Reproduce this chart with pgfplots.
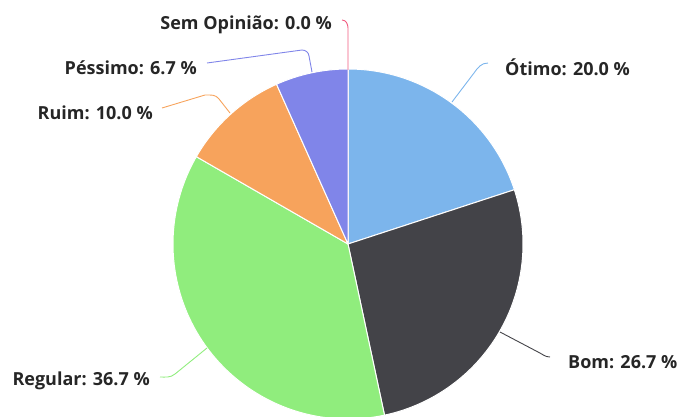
\documentclass[border=0pt]{standalone}
\usepackage{pgfplots}
\pgfplotsset{compat=1.18}
\usepackage{pgfplotstable}
\usepackage{fontspec}
\setmainfont{Open Sans}
\definecolor{c1}{HTML}{7CB5EC}
\definecolor{c2}{HTML}{434348}
\definecolor{c3}{HTML}{90ED7D}
\definecolor{c4}{HTML}{F7A35C}
\definecolor{c5}{HTML}{8085E9}
\definecolor{c6}{HTML}{F15C80}
\definecolor{txt}{HTML}{262626}
\pgfplotstableread[col sep=comma]{
name,value,col
Otimo,20.0,c1
Bom,26.7,c2
Regular,36.7,c3
Ruim,10.0,c4
Pessimo,6.7,c5
SemOpiniao,0.0,c6
}\piedata
\begin{document}
\begin{tikzpicture}
\useasboundingbox (0,0) rectangle (680pt,416pt);
\begin{axis}[x=1pt,y=1pt,xmin=0,xmax=680,ymin=0,ymax=416,hide axis,
  anchor=south west,at={(0,0)},clip=false]
\pgfplotstablegetrowsof{\piedata}\pgfmathtruncatemacro\lastrow{\pgfplotsretval-1}
\def\total{0}
\pgfplotsforeachungrouped \i in {0,...,\lastrow}{%
  \pgfplotstablegetelem{\i}{value}\of\piedata
  \pgfmathsetmacro\total{\total+\pgfplotsretval}%
}
\def\acc{0}
\pgfplotsforeachungrouped \i in {0,...,\lastrow}{%
  \pgfplotstablegetelem{\i}{value}\of\piedata \let\v\pgfplotsretval
  \pgfplotstablegetelem{\i}{col}\of\piedata \let\c\pgfplotsretval
  \pgfmathsetmacro\sa{90-(\acc/\total)*360}%
  \pgfmathsetmacro\acc{\acc+\v}%
  \pgfmathsetmacro\ea{90-(\acc/\total)*360}%
  \edef\temp{\noexpand\fill[\c, draw=white, line width=1pt, line join=round]
    (axis cs:348,172) -- ++(\sa:175pt) arc[start angle=\sa, end angle=\ea, radius=175pt] -- cycle;}%
  \temp
}
% connectors
\draw[c1, line width=0.9pt] (axis cs:452,314) -- (axis cs:474,343) to[out=55,in=180] (axis cs:488,353);
\draw[c2, line width=0.9pt] (axis cs:500,84) -- (axis cs:538,64) to[out=-25,in=180] (axis cs:550,59);
\draw[c3, line width=0.9pt] (axis cs:207,68) -- (axis cs:175,42) to[out=-140,in=0] (axis cs:160,39);
\draw[c4, line width=0.9pt] (axis cs:230,303) -- (axis cs:219,317) to[out=125,in=0] (axis cs:205,321) -- (axis cs:162,308);
\draw[c5, line width=0.9pt] (axis cs:312,344) -- (axis cs:309,360) to[out=95,in=0] (axis cs:302,366) -- (axis cs:207,353);
\draw[c6, line width=0.9pt] (axis cs:348,346) -- (axis cs:348,388) to[out=90,in=0] (axis cs:342,396);
% labels
\begin{scope}[every node/.style={font=\bfseries\fontsize{18}{20}\selectfont, text=txt, inner sep=0pt}]
\node[anchor=west] at (axis cs:505,349) {Ótimo: 20.0 \%};
\node[anchor=west] at (axis cs:568,54) {Bom: 26.7 \%};
\node[anchor=east] at (axis cs:150,35) {Regular: 36.7 \%};
\node[anchor=east] at (axis cs:153,303) {Ruim: 10.0 \%};
\node[anchor=east] at (axis cs:197,348) {Péssimo: 6.7 \%};
\node[anchor=east] at (axis cs:332,391) {Sem Opinião: 0.0 \%};
\end{scope}
\end{axis}
\end{tikzpicture}
\end{document}
